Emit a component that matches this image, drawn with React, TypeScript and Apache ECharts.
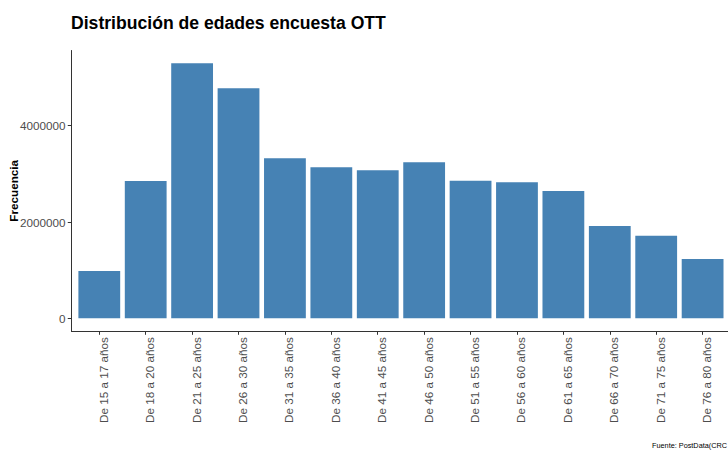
import React, { useEffect, useRef } from "react";
import * as echarts from "echarts";

const categories = [
  "De 15 a 17 años",
  "De 18 a 20 años",
  "De 21 a 25 años",
  "De 26 a 30 años",
  "De 31 a 35 años",
  "De 36 a 40 años",
  "De 41 a 45 años",
  "De 46 a 50 años",
  "De 51 a 55 años",
  "De 56 a 60 años",
  "De 61 a 65 años",
  "De 66 a 70 años",
  "De 71 a 75 años",
  "De 76 a 80 años",
];
const frecuencia = [
  982000, 2852000, 5296000, 4777000, 3323000, 3136000, 3074000, 3240000,
  2858000, 2824000, 2644000, 1917000, 1716000, 1232000,
];
const yTicks = [0, 2000000, 4000000];
const titleText = "Distribución de edades encuesta OTT";
const yTitle = "Frecuencia";
const captionText = "Fuente: PostData(CRC";

const FONT = "'Liberation Sans', Arial, Helvetica, sans-serif";

export default function App() {
  const ref = useRef<HTMLDivElement>(null);
  useEffect(() => {
    if (!ref.current) return;
    const chart = echarts.init(ref.current, undefined, { renderer: "svg" });
    const maxV = Math.max(...frecuencia);
    const n = categories.length;
    const idx = categories.map((_, i) => i);
    const option = {
      animation: false,
      backgroundColor: "#ffffff",
      textStyle: { fontFamily: FONT },
      title: {
        text: titleText,
        left: 71,
        top: 14,
        padding: 0,
        textStyle: { fontSize: 17.6, fontWeight: "bold", color: "#000000", fontFamily: FONT },
      },
      grid: {
        left: 71.45,
        top: 50.5,
        width: 659,
        height: 280.6,
        containLabel: false,
        outerBoundsMode: "none",
      },
      xAxis: {
        type: "value",
        min: -0.6,
        max: n - 1 + 0.6,
        splitLine: { show: false },
        axisLine: { show: true, onZero: false, lineStyle: { color: "#333333", width: 1 } },
        axisTick: {
          show: true,
          length: 3.7,
          customValues: idx,
          lineStyle: { color: "#333333", width: 1 },
        },
        axisLabel: {
          customValues: idx,
          formatter: (v: number) => categories[Math.round(v)] ?? "",
          rotate: 90,
          verticalAlign: "top",
          lineHeight: 8,
          margin: 6,
          fontSize: 11.7,
          color: "#4D4D4D",
          fontFamily: FONT,
        },
      },
      yAxis: {
        type: "value",
        min: -0.05 * maxV,
        max: 1.05 * maxV,
        name: yTitle,
        nameLocation: "middle",
        nameRotate: 90,
        nameGap: 52,
        nameMoveOverlap: false,
        nameTextStyle: { fontSize: 11.7, fontWeight: "bold", color: "#000000", fontFamily: FONT },
        splitLine: { show: false },
        axisLine: { show: true, onZero: false, lineStyle: { color: "#333333", width: 1 } },
        axisTick: { show: true, length: 3.7, customValues: yTicks, lineStyle: { color: "#333333", width: 1 } },
        axisLabel: {
          customValues: yTicks,
          formatter: (v: number) => String(Math.round(v)),
          margin: 6,
          fontSize: 11.7,
          color: "#4D4D4D",
          fontFamily: FONT,
        },
      },
      graphic: [
        {
          type: "text",
          left: 652,
          top: 442,
          style: { text: captionText, fontSize: 7.3, fill: "#000000", fontFamily: FONT },
        },
      ],
      series: [
        {
          type: "bar",
          data: frecuencia.map((v, i) => [i, v]),
          barWidth: 41.8,
          itemStyle: { color: "#4682B4" },
        },
      ],
    };
    chart.setOption(option as any);
    return () => chart.dispose();
  }, []);
  return (
    <div
      ref={ref}
      style={{ position: "fixed", left: 0, top: 0, width: 728, height: 451, background: "#fff" }}
    />
  );
}
